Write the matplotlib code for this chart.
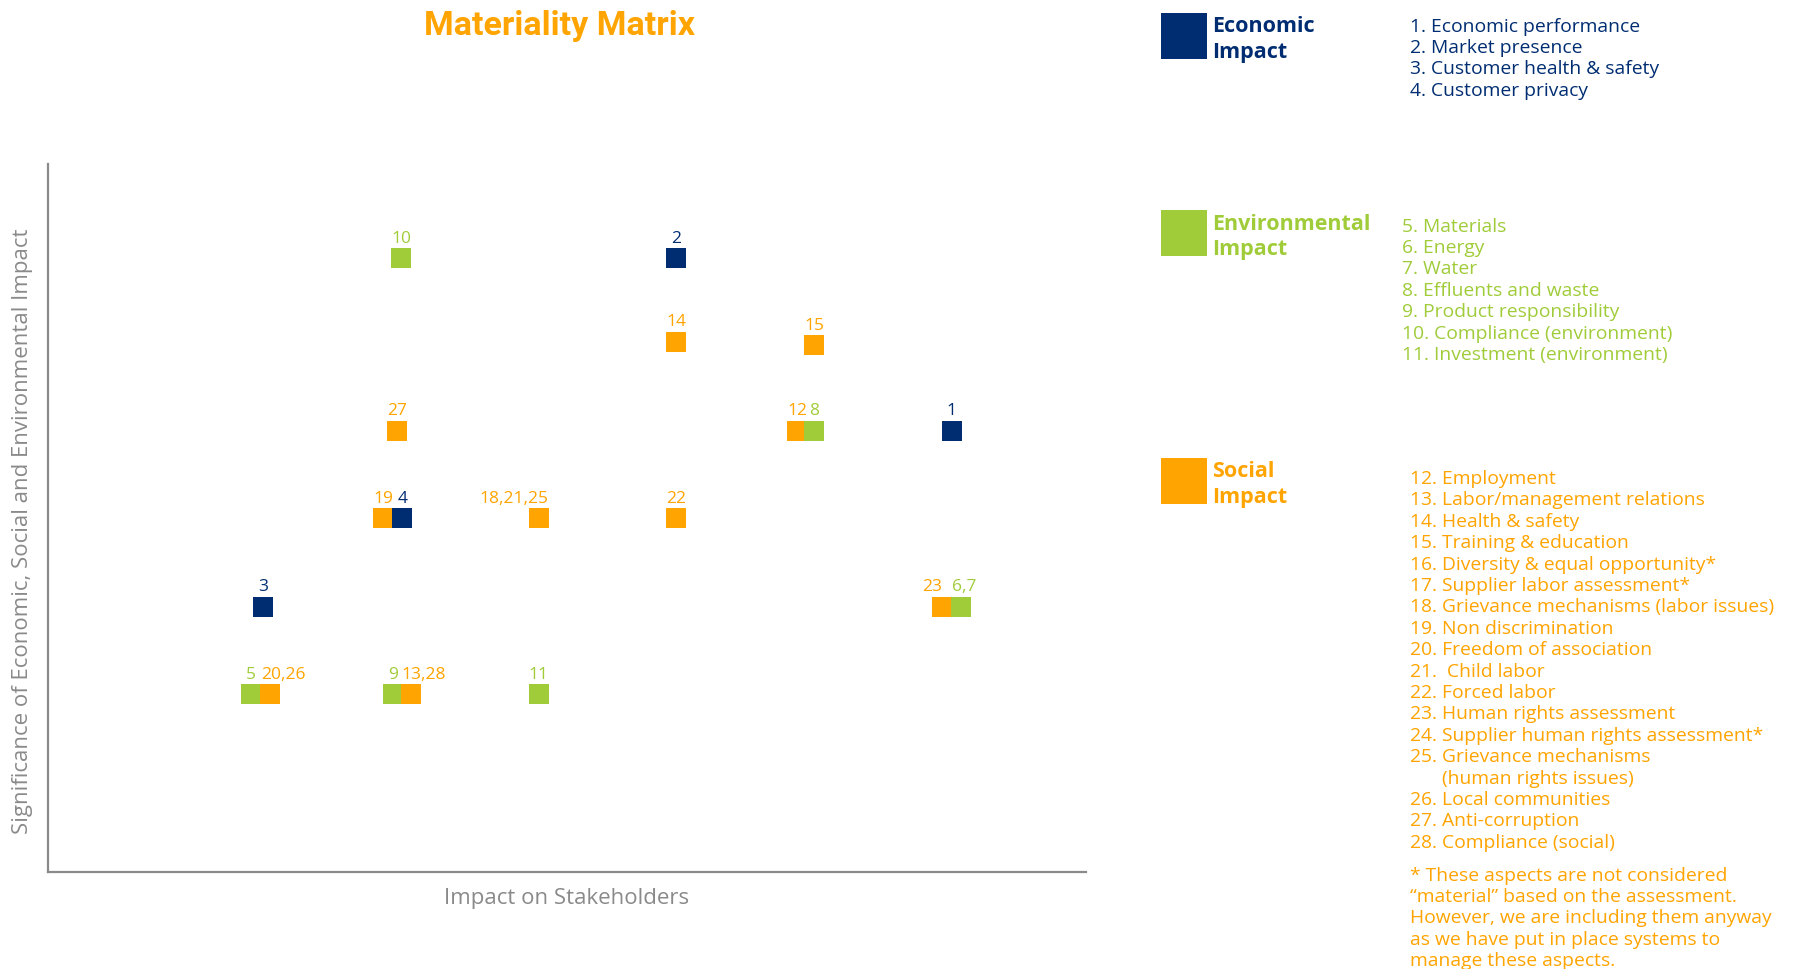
import matplotlib
matplotlib.use("Agg")
import matplotlib.pyplot as plt
from matplotlib.patches import Rectangle

# chart data
labels = ['10', '2', '14', '15', '27', '12', '8', '1', '19', '4', '18,21,25', '22',
          '3', '23', '6,7', '5', '20,26', '9', '13,28', '11']
category = ['env', 'eco', 'soc', 'soc', 'soc', 'soc', 'env', 'eco', 'soc', 'eco', 'soc', 'soc',
            'eco', 'soc', 'env', 'env', 'soc', 'env', 'soc', 'env']
stakeholder = [2.0, 4.0, 4.0, 5.0, 1.97, 4.88, 5.0, 6.0, 1.87, 2.01, 3.0, 4.0,
               1.0, 5.93, 6.07, 0.91, 1.05, 1.94, 2.07, 3.0]
significance = [6.0, 6.0, 5.04, 5.0, 4.02, 4.02, 4.02, 4.02, 3.02, 3.02, 3.02, 3.02,
                2.0, 2.0, 2.0, 1.0, 1.0, 1.0, 1.0, 1.0]

eco_items = ['1. Economic performance', '2. Market presence',
             '3. Customer health & safety', '4. Customer privacy']
env_items = ['5. Materials', '6. Energy', '7. Water', '8. Effluents and waste',
             '9. Product responsibility', '10. Compliance (environment)',
             '11. Investment (environment)']
soc_items = ['12. Employment', '13. Labor/management relations', '14. Health & safety',
             '15. Training & education', '16. Diversity & equal opportunity*',
             '17. Supplier labor assessment*', '18. Grievance mechanisms (labor issues)',
             '19. Non discrimination', '20. Freedom of association', '21.  Child labor',
             '22. Forced labor', '23. Human rights assessment',
             '24. Supplier human rights assessment*', '25. Grievance mechanisms',
             '(human rights issues)', '26. Local communities', '27. Anti-corruption',
             '28. Compliance (social)']
footnote = ['* These aspects are not considered',
            '\u201cmaterial\u201d based on the assessment.',
            'However, we are including them anyway',
            'as we have put in place systems to',
            'manage these aspects.']

colors = {'eco': '#002D72', 'env': '#A0CC3A', 'soc': '#FFA400'}
gray = '#8a8a8a'
W, H = 1796, 970
light = dict(family=['Open Sans', 'DejaVu Sans'], fontweight='normal')
bold = dict(family=['Open Sans', 'DejaVu Sans'], fontweight='bold')


def fpos(x, y):  # pixel position -> figure fraction
    return x / W, 1 - y / H


fig = plt.figure(figsize=(W / 100, H / 100), dpi=100)
ax = fig.add_axes([48 / W, 97 / H, 1038 / W, 708 / H])
ax.set_xlim(-0.566, 6.977)
ax.set_ylim(-1.036, 7.08)
for s in ['top', 'right']:
    ax.spines[s].set_visible(False)
for s in ['left', 'bottom']:
    ax.spines[s].set_color(gray)
    ax.spines[s].set_linewidth(1.6)
ax.set_xticks([])
ax.set_yticks([])

half = 6.8  # half a square, in points
align = {'18,21,25': ('right', half), '23': ('right', 0),
         '20,26': ('left', -half), '13,28': ('left', -half), '6,7': ('left', -half)}
for lab, cat, x, y in zip(labels, category, stakeholder, significance):
    ax.plot(x, y, marker='s', ms=13.7, color=colors[cat], mew=0, ls='none')
    ha, dx = align.get(lab, ('center', 0))
    ax.annotate(lab, (x, y), xytext=(dx, 12), textcoords='offset points',
                ha=ha, va='baseline', color=colors[cat], fontsize=12.5, **light)

fig.text(*fpos(560, 35), 'Materiality Matrix', ha='center', va='baseline',
         color=colors['soc'], fontsize=24.5, fontweight='bold',
         family=['Roboto', 'DejaVu Sans'])
fig.text(*fpos(23, 531), 'Significance of Economic, Social and Environmental Impact',
         rotation=90, ha='center', va='center', color=gray, fontsize=16, **light)
fig.text(*fpos(567, 899), 'Impact on Stakeholders', ha='center', va='center',
         color=gray, fontsize=16, **light)

# legend blocks
blocks = [('eco', ['Economic', 'Impact'], 14, [32, 58], eco_items, 1409.6, 31.7),
          ('env', ['Environmental', 'Impact'], 211, [230, 255], env_items, 1402, 231.7),
          ('soc', ['Social', 'Impact'], 459, [477, 502.5], soc_items, 1409.6, 484)]
for cat, head, sq_top, head_y, items, ix, iy in blocks:
    c = colors[cat]
    x0, y0 = fpos(1161, sq_top + 46)
    fig.patches.append(Rectangle((x0, y0), 46 / W, 46 / H, transform=fig.transFigure,
                                 facecolor=c, edgecolor='none'))
    for t, yy in zip(head, head_y):
        fig.text(*fpos(1212, yy), t, ha='left', va='baseline', color=c, fontsize=15.5, **bold)
    for i, t in enumerate(items):
        xx = 1441.7 if t.startswith('(human') else ix
        fig.text(*fpos(xx, iy + 21.4 * i), t, ha='left', va='baseline', color=c,
                 fontsize=13.9, **light)

for i, t in enumerate(footnote):
    fig.text(*fpos(1409.6, 881 + 21.2 * i), t, ha='left', va='baseline',
             color=colors['soc'], fontsize=13.9, **light)

fig.savefig('out.png', dpi=100)
